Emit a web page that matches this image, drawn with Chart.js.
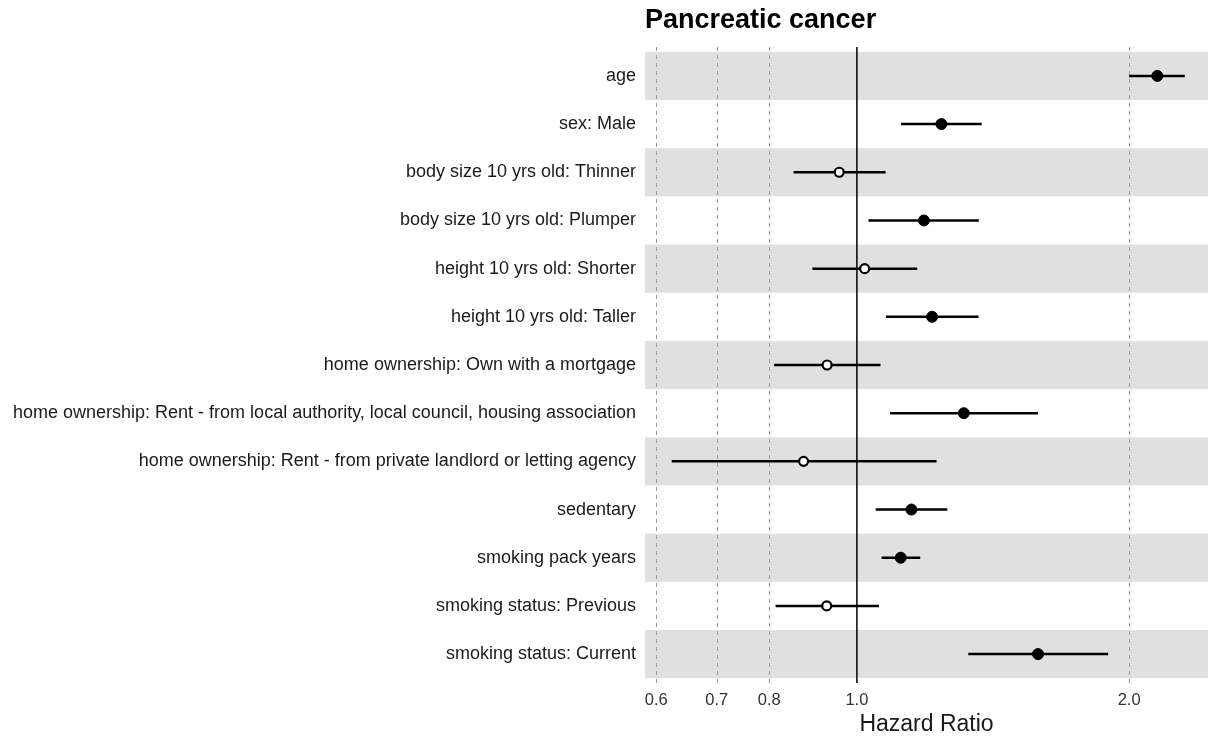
<!DOCTYPE html>
<html>
<head>
<meta charset="utf-8">
<script src="https://cdn.jsdelivr.net/npm/chart.js@4.4.1/dist/chart.umd.min.js"></script>
<style>
  html, body { margin: 0; padding: 0; background: #ffffff; overflow: hidden; }
  #wrap { width: 1208px; height: 738px; position: relative; }
  canvas { display: block; }
</style>
</head>
<body>
<div id="wrap"><canvas id="forest"></canvas></div>
<script>
// Cox model hazard ratios with 95% confidence intervals, one row per term
const terms = [
  'age',
  'sex: Male',
  'body size 10 yrs old: Thinner',
  'body size 10 yrs old: Plumper',
  'height 10 yrs old: Shorter',
  'height 10 yrs old: Taller',
  'home ownership: Own with a mortgage',
  'home ownership: Rent - from local authority, local council, housing association',
  'home ownership: Rent - from private landlord or letting agency',
  'sedentary',
  'smoking pack years',
  'smoking status: Previous',
  'smoking status: Current'
];
const hazardRatio = [2.149, 1.240, 0.956, 1.186, 1.020, 1.211, 0.927, 1.313, 0.873, 1.149, 1.118, 0.926, 1.586];
const ciLower     = [2.000, 1.119, 0.851, 1.030, 0.893, 1.077, 0.810, 1.088, 0.624, 1.049, 1.065, 0.813, 1.328];
const ciUpper     = [2.305, 1.374, 1.076, 1.364, 1.166, 1.363, 1.062, 1.586, 1.225, 1.259, 1.175, 1.058, 1.896];
const xTickValues = [0.6, 0.7, 0.8, 1.0, 2.0];
const plotTitle = 'Pancreatic cancer';
const xTitle = 'Hazard Ratio';

const FONT = '"Liberation Sans", Arial, Helvetica, sans-serif';
const significant = terms.map((_, i) => ciLower[i] > 1 || ciUpper[i] < 1);

// Point estimates (drawn on top) followed by one whisker line per term
const datasets = [{
  type: 'scatter',
  order: 0,
  data: hazardRatio.map((v, i) => ({ x: v, y: i })),
  pointRadius: ctx => significant[ctx.dataIndex] ? 5.5 : 4.5,
  pointBackgroundColor: ctx => significant[ctx.dataIndex] ? '#000000' : '#ffffff',
  pointBorderColor: '#000000',
  pointBorderWidth: ctx => significant[ctx.dataIndex] ? 1 : 2.2
}];
terms.forEach((_, i) => {
  datasets.push({
    type: 'line',
    order: 1,
    data: [{ x: ciLower[i], y: i }, { x: ciUpper[i], y: i }],
    borderColor: '#000000',
    borderWidth: 2.5,
    borderCapStyle: 'butt',
    pointRadius: 0
  });
});

// Alternating row bands, dashed reference lines, the null line and the heading
const forestDecor = {
  id: 'forestDecor',
  beforeDatasetsDraw(chart) {
    const { ctx, chartArea: a, scales: { x, y } } = chart;
    ctx.save();
    ctx.fillStyle = '#e0e0e0';
    terms.forEach((_, i) => {
      if (i % 2 !== 0) return;
      const y0 = y.getPixelForValue(i - 0.5);
      const y1 = y.getPixelForValue(i + 0.5);
      ctx.fillRect(a.left, Math.min(y0, y1), a.right - a.left, Math.abs(y1 - y0));
    });
    ctx.strokeStyle = '#9a9a9a';
    ctx.lineWidth = 1;
    ctx.setLineDash([4, 4]);
    xTickValues.forEach(v => {
      if (v === 1) return;
      const px = Math.round(x.getPixelForValue(v)) + 0.5;
      ctx.beginPath();
      ctx.moveTo(px, a.top);
      ctx.lineTo(px, a.bottom);
      ctx.stroke();
    });
    ctx.setLineDash([]);
    ctx.strokeStyle = '#000000';
    ctx.lineWidth = 1.5;
    const p1 = x.getPixelForValue(1);
    ctx.beginPath();
    ctx.moveTo(p1, a.top);
    ctx.lineTo(p1, a.bottom);
    ctx.stroke();
    ctx.restore();
  },
  afterDraw(chart) {
    const { ctx, chartArea: a } = chart;
    ctx.save();
    ctx.fillStyle = '#000000';
    ctx.font = 'bold 27px ' + FONT;
    ctx.textAlign = 'left';
    ctx.textBaseline = 'middle';
    ctx.fillText(plotTitle, a.left, 21);
    ctx.restore();
  }
};

new Chart(document.getElementById('forest'), {
  data: { datasets },
  plugins: [forestDecor],
  options: {
    responsive: true,
    maintainAspectRatio: false,
    animation: false,
    events: [],
    layout: { autoPadding: false, padding: { top: 47, right: 0, bottom: 0, left: 0 } },
    plugins: { legend: { display: false }, tooltip: { enabled: false }, title: { display: false } },
    scales: {
      x: {
        type: 'logarithmic',
        min: 0.583,
        max: 2.445,
        afterBuildTicks: s => { s.ticks = xTickValues.map(v => ({ value: v })); },
        afterFit: s => { s.height = 55; s.paddingLeft = 0; s.paddingRight = 0; },
        grid: { display: false, drawTicks: false },
        border: { display: false },
        ticks: {
          autoSkip: false,
          maxRotation: 0,
          padding: 8,
          color: '#333333',
          font: { family: FONT, size: 16.5 },
          callback: v => Number(v).toFixed(1)
        },
        title: {
          display: true,
          text: xTitle,
          color: '#1a1a1a',
          font: { family: FONT, size: 23 },
          padding: { top: 0, bottom: 0 }
        }
      },
      y: {
        type: 'linear',
        reverse: true,
        min: -0.6,
        max: 12.6,
        afterBuildTicks: s => { s.ticks = terms.map((_, i) => ({ value: i })); },
        afterFit: s => { s.width = 645; s.paddingTop = 0; s.paddingBottom = 0; },
        grid: { display: false, drawTicks: false },
        border: { display: false },
        ticks: {
          autoSkip: false,
          padding: 9,
          color: '#1a1a1a',
          font: { family: FONT, size: 18 },
          callback: v => terms[v]
        }
      }
    }
  }
});
</script>
</body>
</html>
